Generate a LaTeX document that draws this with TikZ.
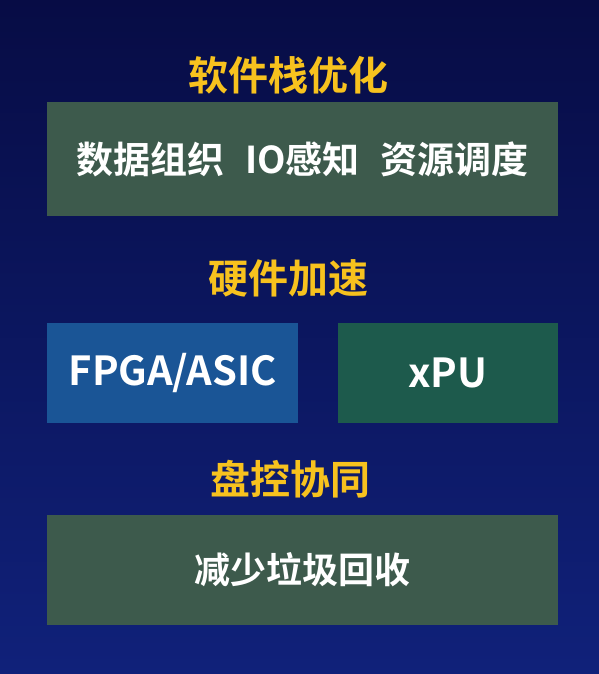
\documentclass[tikz,border=0pt]{standalone}
\usepackage{fontspec}
\newfontfamily\cjk{Noto Sans CJK SC Bold}
\definecolor{bgtop}{HTML}{070C45}
\definecolor{bgbot}{HTML}{10217A}
\definecolor{boxgray}{HTML}{3D5A4C}
\definecolor{boxblue}{HTML}{1A5596}
\definecolor{boxteal}{HTML}{1D5A4C}
\definecolor{ttlyellow}{HTML}{F7C21E}
\begin{document}
\begin{tikzpicture}[x=1pt,y=-1pt,
		box/.style={inner sep=0pt, text=white, font=\cjk\fontsize{37}{37}\selectfont},
		title/.style={inner sep=0pt, text=ttlyellow, font=\cjk\fontsize{40}{40}\selectfont}]
		\shade[top color=bgtop, bottom color=bgbot] (0,0) rectangle (599,674);
		\node[title] (tsoft) at (288,75) {软件栈优化};
		\node[box, fill=boxgray, minimum width=511pt, minimum height=114pt] (soft) at (302.5,159) {数据组织\hspace{0.55em}IO感知\hspace{0.55em}资源调度};
		\node[title] (thard) at (288,278) {硬件加速};
		\node[box, fill=boxblue, minimum width=251pt, minimum height=100pt, font=\cjk\fontsize{40}{40}\selectfont] (fpga) at (172.5,373) {FPGA/ASIC};
		\node[box, fill=boxteal, minimum width=220pt, minimum height=100pt, font=\cjk\fontsize{40}{40}\selectfont] (xpu) at (448,373) {xPU};
		\node[title] (tdisk) at (290,479) {盘控协同};
		\node[box, fill=boxgray, minimum width=511pt, minimum height=110pt, font=\cjk\fontsize{36}{36}\selectfont] (gc) at (302.5,570) {减少垃圾回收};
	\end{tikzpicture}
\end{document}
